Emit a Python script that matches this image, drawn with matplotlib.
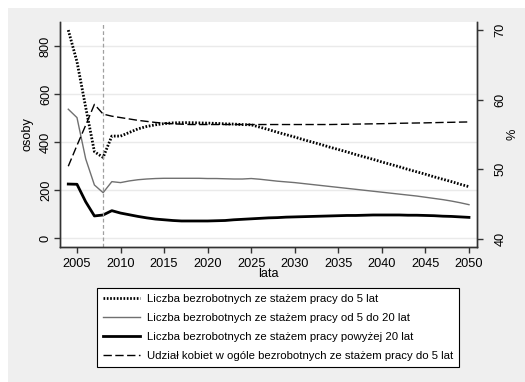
import numpy as np
import matplotlib
matplotlib.use("Agg")
import matplotlib.pyplot as plt
from matplotlib.patches import Rectangle

plt.rcParams['font.family'] = ['Liberation Sans', 'DejaVu Sans']

# data
years = list(range(2004, 2051))

do_5 = [867, 735, 545, 360, 336, 425, 425, 440, 455, 465,
        472, 477, 480, 481, 481, 480, 479, 478, 476, 475,
        473, 472, 462, 452, 441, 431, 421, 410, 400, 390,
        379, 369, 359, 348, 338, 328, 317, 307, 297, 286,
        276, 266, 255, 245, 235, 224, 214]

od_5_do_20 = [537, 502, 330, 221, 189, 235, 231, 238, 243, 246,
              248, 249, 249, 249, 249, 249, 248, 248, 247, 246,
              246, 248, 245, 241, 237, 234, 231, 227, 223, 219,
              215, 211, 207, 203, 199, 195, 191, 187, 183, 179,
              175, 170, 165, 160, 154, 147, 139]

pow_20 = [225, 224, 151, 92, 96, 114, 104, 97, 90, 84,
          79, 76, 73, 71, 71, 71, 71, 72, 73, 76,
          78, 80, 82, 84, 85, 87, 88, 89, 90, 91,
          92, 93, 94, 94, 95, 96, 96, 96, 96, 95,
          95, 94, 93, 91, 90, 88, 86]

kobiety_pct = [50.4, 53.4, 56.3, 59.3, 57.9, 57.6, 57.4, 57.2, 57.0, 56.85,
               56.7, 56.6, 56.5, 56.45, 56.4, 56.4, 56.4, 56.4, 56.4, 56.4,
               56.4, 56.4, 56.4, 56.4, 56.4, 56.4, 56.4, 56.4, 56.4, 56.4,
               56.4, 56.42, 56.44, 56.46, 56.48, 56.5, 56.52, 56.55, 56.58, 56.6,
               56.62, 56.64, 56.67, 56.7, 56.72, 56.75, 56.77]

labels = ["Liczba bezrobotnych ze stażem pracy do 5 lat",
          "Liczba bezrobotnych ze stażem pracy od 5 do 20 lat",
          "Liczba bezrobotnych ze stażem pracy powyżej 20 lat",
          "Udział kobiet w ogóle bezrobotnych ze stażem pracy do 5 lat"]

W, H = 525, 382
fig = plt.figure(figsize=(W / 100, H / 100), dpi=100)
fig.patch.set_facecolor('white')
fig.add_artist(Rectangle((8 / W, 0), 1 - 8 / W, 1 - 8 / H, transform=fig.transFigure,
                         facecolor='#efefef', edgecolor='none', zorder=-10))

ax = fig.add_axes([60 / W, 1 - 247 / H, (477 - 60) / W, (247 - 22) / H])
ax.set_facecolor('white')
ax2 = ax.twinx()

ax.set_xlim(2003.05, 2050.92)
ax.set_ylim(-37.5, 900.7)
ax2.set_ylim(38.78, 71.15)

ax.set_yticks([0, 200, 400, 600, 800])
ax2.set_yticks([40, 50, 60, 70])
ax.set_xticks(range(2005, 2051, 5))
ax.yaxis.grid(True, color='#eaeaea', lw=1)
ax.set_axisbelow(True)

l1, = ax.plot(years, do_5, color='black', lw=2, linestyle=(0, (0.6, 0.6)))
l2, = ax.plot(years, od_5_do_20, color='#707070', lw=1)
l3, = ax.plot(years, pow_20, color='black', lw=2)
l4, = ax2.plot(years, kobiety_pct, color='black', lw=1, linestyle=(0, (6, 2.5)))
ax.axvline(2008, color='#a0a0a0', lw=0.9, linestyle=(0, (3, 2)))

for a in (ax, ax2):
    a.spines['top'].set_visible(False)
    for s in a.spines.values():
        s.set_color('#333333')
        s.set_linewidth(1)
    a.tick_params(labelsize=9.2, length=4, color='#333333', width=1)

ax.tick_params(axis='y', labelrotation=90, pad=1.8)
ax2.tick_params(axis='y', labelrotation=90, pad=8.5)
ax.tick_params(axis='x', pad=4)
for t in ax.get_yticklabels() + ax2.get_yticklabels():
    t.set_va('center')

ax.set_ylabel('osoby', fontsize=9.2, labelpad=4.5)
ax2.set_ylabel('%', fontsize=9.2, labelpad=0)
ax.set_xlabel('lata', fontsize=9.2, labelpad=-1.5)

leg = fig.legend([l1, l2, l3, l4], labels, loc='upper left',
                 bbox_to_anchor=(97 / W, 1 - 288 / H), bbox_transform=fig.transFigure,
                 fontsize=8.2, frameon=True, fancybox=False, edgecolor='black',
                 facecolor='white', framealpha=1, handlelength=3.2, handletextpad=0.6,
                 labelspacing=0.78, borderpad=0.55, borderaxespad=0)
leg.get_frame().set_linewidth(0.8)

fig.savefig('out.png', dpi=100)
